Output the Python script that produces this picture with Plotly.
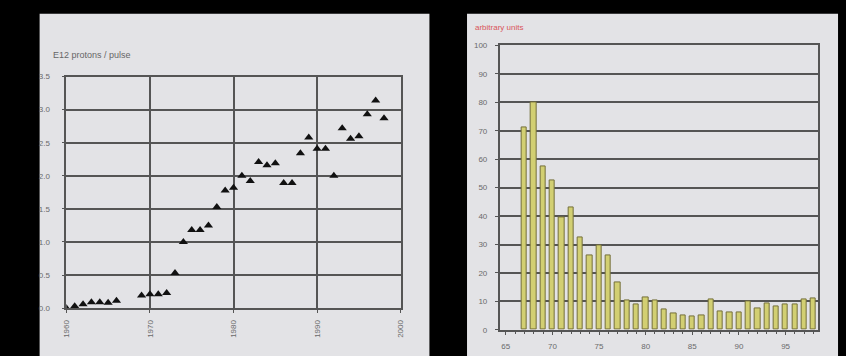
import plotly.graph_objects as go

# Beam intensity per year (E12 protons / pulse)
years = [1960, 1961, 1962, 1963, 1964, 1965, 1966,
         1969, 1970, 1971, 1972, 1973, 1974, 1975, 1976, 1977, 1978, 1979,
         1980, 1981, 1982, 1983, 1984, 1985, 1986, 1987, 1988, 1989,
         1990, 1991, 1992, 1993, 1994, 1995, 1996, 1997, 1998]
protons = [0.00, 0.03, 0.06, 0.09, 0.09, 0.08, 0.11,
           0.19, 0.21, 0.21, 0.23, 0.53, 1.00, 1.18, 1.18, 1.25, 1.53, 1.78,
           1.82, 2.00, 1.92, 2.21, 2.16, 2.19, 1.89, 1.89, 2.34, 2.58,
           2.41, 2.41, 2.00, 2.72, 2.56, 2.60, 2.93, 3.14, 2.87]

# Yearly values in arbitrary units
bar_years = list(range(67, 99))
bar_values = [71, 80, 57.5, 52.5, 39.5, 43, 32.5, 26.2, 29.7, 26.2, 16.8, 10.3,
              8.9, 11.5, 10.3, 7.2, 5.8, 5.1, 4.7, 5.2, 10.6, 6.6, 6.0, 6.0,
              9.9, 7.5, 9.2, 8.1, 9.0, 8.9, 10.6, 11.0]

left_ticks = [0, 0.5, 1.0, 1.5, 2.0, 2.5, 3.0, 3.5]
left_xticks = [1960, 1970, 1980, 1990, 2000]
right_ticks = list(range(0, 101, 10))
right_xticks = [65, 70, 75, 80, 85, 90, 95]

W, H = 846, 356
PANEL = "#e3e3e6"
GRID = "#555555"
LABEL = "#6a6a6a"
FONT = "Liberation Sans"


def px_x(v):
    return v / W


def px_y(v):
    return 1 - v / H


fig = go.Figure()

fig.add_trace(go.Scatter(
    x=years, y=protons, mode="markers",
    marker=dict(symbol="triangle-up", size=8, color="#111111"),
    xaxis="x", yaxis="y", showlegend=False,
))

fig.add_trace(go.Bar(
    x=bar_years, y=bar_values, width=0.55,
    marker=dict(color="#d2cf72", line=dict(color="#74703a", width=1)),
    xaxis="x2", yaxis="y2", showlegend=False,
))

axis_common = dict(
    showline=True, linecolor=GRID, linewidth=1.5, mirror=True,
    gridcolor=GRID, gridwidth=1.6, zeroline=False,
    tickfont=dict(family=FONT, size=8, color=LABEL),
    ticks="outside", tickcolor=GRID, ticklen=3,
)

fig.update_layout(
    width=W, height=H,
    margin=dict(l=0, r=0, t=0, b=0),
    paper_bgcolor="#000000",
    plot_bgcolor="rgba(0,0,0,0)",
    bargap=0,
    xaxis=dict(
        domain=[px_x(63), px_x(401)], anchor="y",
        range=[1960, 2000], tickvals=left_xticks,
        ticktext=[str(t) for t in left_xticks], tickangle=-90,
        showgrid=True, ticklabelstandoff=4, **axis_common,
    ),
    yaxis=dict(
        domain=[px_y(312), px_y(74.5)], anchor="x",
        range=[0, 3.5], tickvals=left_ticks,
        ticktext=[f"{t:.1f}" for t in left_ticks],
        showgrid=True, ticklabelstandoff=10, **axis_common,
    ),
    xaxis2=dict(
        domain=[px_x(501), px_x(823)], anchor="y2",
        range=[64.35, 98.5], tickvals=right_xticks,
        ticktext=[str(t) for t in right_xticks],
        showgrid=False, ticklabelstandoff=5,
        minor=dict(dtick=1, tick0=67, ticks="outside", ticklen=2, tickcolor=GRID),
        **axis_common,
    ),
    yaxis2=dict(
        domain=[px_y(334.3), px_y(42.5)], anchor="x2",
        range=[0, 100], tickvals=right_ticks,
        ticktext=[str(t) for t in right_ticks],
        showgrid=True, ticklabelstandoff=6, **axis_common,
    ),
    shapes=[
        dict(type="rect", xref="paper", yref="paper", layer="below",
             x0=px_x(36), x1=px_x(430), y0=-0.05, y1=px_y(10),
             fillcolor=PANEL, line=dict(width=0)),
        dict(type="rect", xref="paper", yref="paper", layer="below",
             x0=px_x(468), x1=px_x(843), y0=-0.05, y1=px_y(10),
             fillcolor=PANEL, line=dict(width=0)),
    ],
    annotations=[
        dict(text="E12 protons / pulse", xref="paper", yref="paper",
             x=px_x(47), y=px_y(52), xanchor="left", yanchor="middle",
             showarrow=False, font=dict(family=FONT, size=9, color="#666666")),
        dict(text="arbitrary units", xref="paper", yref="paper",
             x=px_x(474), y=px_y(24), xanchor="left", yanchor="middle",
             showarrow=False, font=dict(family=FONT, size=8, color="#d9555a")),
    ],
)

fig.write_html("out.html")
